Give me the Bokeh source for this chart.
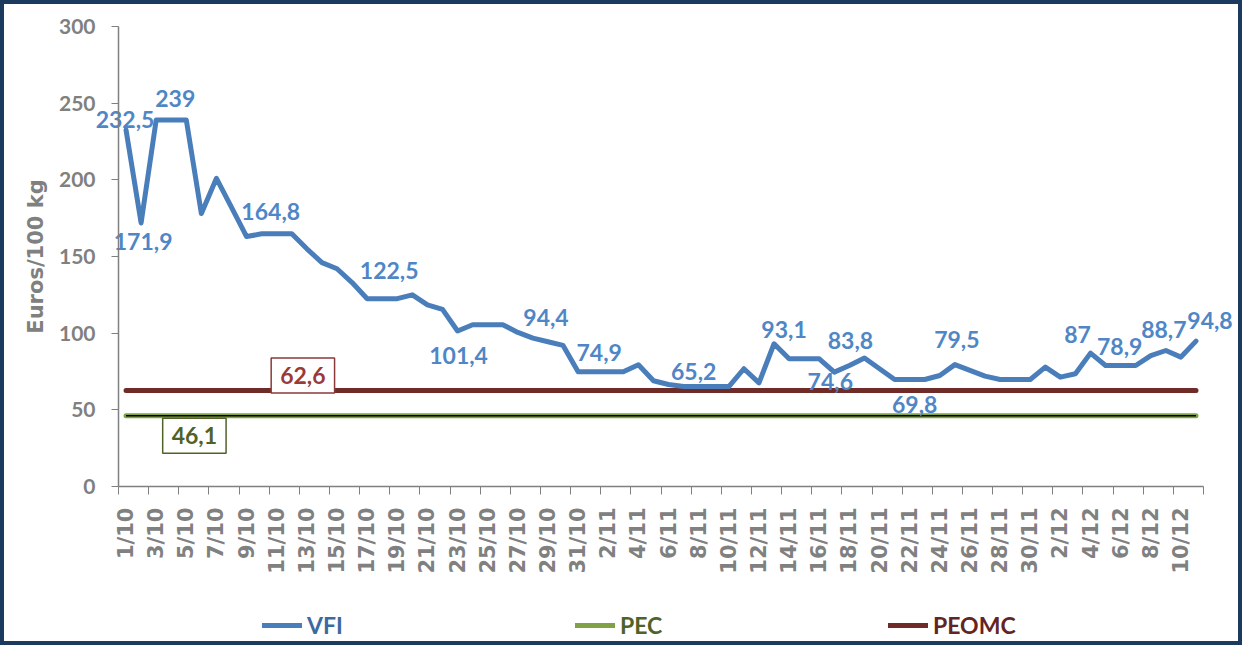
import numpy as np
from bokeh.plotting import figure
from bokeh.layouts import column
from bokeh.models import (ColumnDataSource, FixedTicker, Legend, LegendItem,
                          Label, Range1d)
from bokeh.core.properties import value
from bokeh.embed import file_html
from bokeh.resources import INLINE

# ---------------- data ----------------
categories = ([f"{d}/10" for d in range(1, 32)]
              + [f"{d}/11" for d in range(1, 31)]
              + [f"{d}/12" for d in range(1, 12)])

vfi = [232.5, 171.9, 239, 239, 239, 178, 201, 182, 163, 164.8,
       164.8, 164.8, 155, 146, 142, 133, 122.5, 122.5, 122.5, 125,
       118.5, 115.5, 101.4, 105.5, 105.5, 105.5, 100.5, 96.8, 94.4, 92,
       74.9, 74.9, 74.9, 74.9, 79.4, 69, 66.5, 65.2, 65.2, 65.2,
       65.2, 76.8, 67.6, 93.1, 83.3, 83.3, 83.3, 74.6, 78.9, 83.8,
       76.8, 69.8, 69.8, 69.8, 72.4, 79.5, 75.7, 72, 69.8, 69.8,
       69.8, 77.9, 71.3, 73.5, 87, 78.9, 78.9, 78.9, 85.4, 88.7,
       84.4, 94.8]

pec_value = 46.1
peomc_value = 62.6

labelled_points = [0, 1, 3, 10, 17, 22, 28, 31, 38, 43, 47, 49, 52, 55, 64, 66, 69, 71]
y_ticks = [0, 50, 100, 150, 200, 250, 300]
series_names = ["VFI", "PEC", "PEOMC"]

# ---------------- style (label offsets in screen px, +dy = down) ----------------
label_dx = [-1, 2, 4, -6, 7, 1, -2, 6, -5, 10, -4, -14, 5, 2, -13, -1, -2, 14]
label_dy = [-11, 19, -22, -22, -28, 24, -24, -19, -15, -14, 9, -18, 25, -25, -19, -19, -21, -21]

FONT = "Lato"
WIDE = "DejaVu Sans"
GRAY = "#808080"
BLUE = "#4A7EBB"
GREEN = "#7FA246"
DARKRED = "#6E2B28"

W, H = 1234, 637               # canvas inside the 4px frame border
X0, PX_PER_CAT = 114, 15.07    # screen position of category boundary 0, width of a category
Y0, PX_PER_UNIT = 482, 1.5333  # screen position of value 0, px per euro


def fmt(v):
    return f"{v:g}".replace(".", ",")


n = len(categories)
xs = [i + 0.5 for i in range(n)]

x_range = Range1d(-X0 / PX_PER_CAT, (W - X0) / PX_PER_CAT)
y_range = Range1d(-(H - Y0) / PX_PER_UNIT, Y0 / PX_PER_UNIT)

p = figure(width=W, height=H, x_range=x_range, y_range=y_range,
           output_backend="svg", toolbar_location=None,
           min_border=0)
p.outline_line_color = None
p.grid.visible = False
p.background_fill_color = "white"
p.border_fill_color = "white"

# x axis (drawn at value 0)
xa = p.xaxis[0]
xa.fixed_location = 0
xa.bounds = (0, n)
xa.ticker = FixedTicker(ticks=[xs[i] for i in range(0, n, 2)],
                        minor_ticks=list(range(0, n + 1, 2)))
xa.major_label_overrides = {xs[i]: categories[i] for i in range(0, n, 2)}
xa.major_label_orientation = np.pi / 2
xa.major_tick_out = 0
xa.major_tick_in = 0
xa.minor_tick_out = 8
xa.minor_tick_in = 0
xa.minor_tick_line_color = GRAY
xa.axis_line_color = GRAY
xa.axis_line_width = 1.5
xa.major_label_standoff = 13
xa.major_label_text_font = WIDE
xa.major_label_text_font_style = "bold"
xa.major_label_text_font_size = "21px"
xa.major_label_text_color = GRAY

# y axis (drawn at category boundary 0)
ya = p.yaxis[0]
ya.fixed_location = 0
ya.bounds = (0, 300)
ya.ticker = FixedTicker(ticks=y_ticks)
ya.major_tick_out = 7
ya.major_tick_in = 0
ya.minor_tick_out = 0
ya.minor_tick_in = 0
ya.major_tick_line_color = GRAY
ya.axis_line_color = GRAY
ya.axis_line_width = 1.5
ya.major_label_standoff = 16
ya.major_label_text_font = FONT
ya.major_label_text_font_style = "bold"
ya.major_label_text_font_size = "21px"
ya.major_label_text_color = GRAY
ya.axis_label = "Euros/100 kg"
ya.axis_label_text_font = WIDE
ya.axis_label_text_font_style = "bold"
ya.axis_label_text_font_size = "21px"
ya.axis_label_text_color = GRAY
ya.axis_label_standoff = 8

# lines
r_peomc = p.line(xs, [peomc_value] * n, line_color=DARKRED, line_width=5, line_cap="round")
r_pec = p.line(xs, [pec_value] * n, line_color=GREEN, line_width=5, line_cap="round")
p.line(xs, [pec_value] * n, line_color="black", line_width=1.5)
r_vfi = p.line(xs, vfi, line_color=BLUE, line_width=5, line_join="round", line_cap="round")

# data labels
src = ColumnDataSource(dict(
    x=[xs[i] for i in labelled_points],
    y=[vfi[i] for i in labelled_points],
    t=[fmt(vfi[i]) for i in labelled_points],
    dx=label_dx, dy=label_dy))
p.text(x="x", y="y", text="t", x_offset="dx", y_offset="dy", source=src,
       text_font=value(FONT), text_font_style="bold", text_font_size="23px",
       text_color="#4F86C6", text_align="center", text_baseline="middle")

# boxed labels for constant lines
p.add_layout(Label(x=xs[12], y=peomc_value, x_offset=-4, y_offset=15, text=fmt(peomc_value),
                   text_font=FONT, text_font_style="bold", text_font_size="23px",
                   text_color="#9B3B39", text_align="center", text_baseline="middle",
                   border_line_color="#8B3A3A", border_line_width=1.5,
                   background_fill_color="white", padding=9))
p.add_layout(Label(x=xs[5], y=pec_value, x_offset=-7, y_offset=-20, text=fmt(pec_value),
                   text_font=FONT, text_font_style="bold", text_font_size="23px",
                   text_color="#4F6228", text_align="center", text_baseline="middle",
                   border_line_color="#4F6228", border_line_width=1.5,
                   background_fill_color="white", padding=9))

# legends, inside the (full-canvas) frame, under the axis labels
legend_x = [258, 571, 884]
legend_colors = ["#3B6AA0", "#4F6228", "#632523"]
for name, rend, lx, col in zip(series_names, [r_vfi, r_pec, r_peomc], legend_x, legend_colors):
    leg = Legend(items=[LegendItem(label=name, renderers=[rend])],
                 location=(lx, 2), orientation="horizontal",
                 border_line_color=None, background_fill_alpha=0,
                 padding=0, margin=0, spacing=0,
                 glyph_width=40, glyph_height=24, label_standoff=5,
                 label_text_font=FONT, label_text_font_style="bold",
                 label_text_font_size="23px", label_text_color=col)
    p.add_layout(leg, "center")

layout = column(p, styles={"border": "4px solid #1B3A5E"})

open("out.html", "w").write(file_html(layout, INLINE))
